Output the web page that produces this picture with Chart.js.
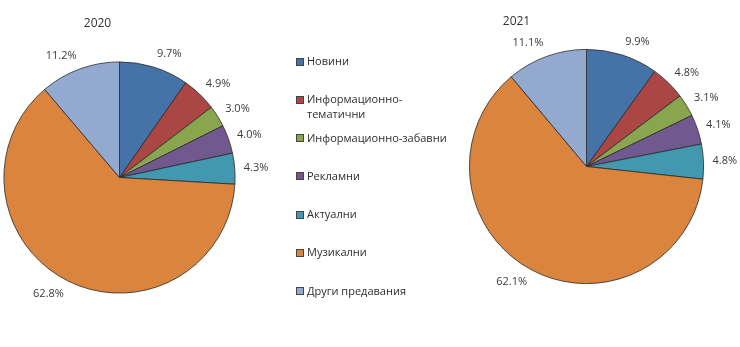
<!DOCTYPE html>
<html>
<head>
<meta charset="utf-8">
<script src="https://cdn.jsdelivr.net/npm/chart.js@4/dist/chart.umd.min.js"></script>
<style>
    html, body { margin: 0; padding: 0; background: #fff; }
    #wrap { position: relative; width: 740px; height: 347px; overflow: hidden; }
    #wrap canvas { position: absolute; left: 0; top: 0; }
    #legend {
        position: absolute; left: 296px; top: 53px; margin: 0; padding: 0;
        list-style: none; font: 11px "Open Sans", sans-serif; color: #2e2e2e;
    }
    #legend li { position: relative; height: 38.3px; padding-left: 11px; line-height: 15px; }
    #legend span.box {
        position: absolute; left: 0; top: 4.5px; width: 6px; height: 6px;
        border: 0.8px solid #444;
    }
</style>
</head>
<body>
<div id="wrap">
    <canvas id="pie-2020" width="740" height="347"></canvas>
    <canvas id="pie-2021" width="740" height="347"></canvas>
    <ul id="legend"></ul>
</div>
<script>
// Share of broadcast time by programme type, %
const categories = ['Новини', 'Информационно-\nтематични', 'Информационно-забавни', 'Рекламни', 'Актуални', 'Музикални', 'Други предавания'];
const years = ['2020', '2021'];
const values2020 = [9.7, 4.9, 3.0, 4.0, 4.3, 62.8, 11.2];
const values2021 = [9.9, 4.8, 3.1, 4.1, 4.8, 62.1, 11.1];

const colors = ['#4572A7', '#AA4643', '#89A54E', '#71588F', '#4198AF', '#DB843D', '#93A9CF'];
const textColor = '#3a3a3a';
const labelFont = '11px "Open Sans", sans-serif';

// percentage labels outside each slice + year caption
const outsideLabels = {
    id: 'outsideLabels',
    afterDatasetsDraw(chart, args, opts) {
        const { ctx } = chart;
        const meta = chart.getDatasetMeta(0);
        const values = chart.data.datasets[0].data;
        ctx.save();
        ctx.font = labelFont;
        ctx.fillStyle = textColor;
        ctx.textAlign = 'center';
        ctx.textBaseline = 'middle';
        const h = 10;
        meta.data.forEach((arc, i) => {
            const { x, y, startAngle, endAngle, outerRadius } = arc.getProps(['x', 'y', 'startAngle', 'endAngle', 'outerRadius'], true);
            const mid = (startAngle + endAngle) / 2;
            const ux = Math.cos(mid), uy = Math.sin(mid);
            const text = values[i].toFixed(1) + '%';
            const w = ctx.measureText(text).width;
            const R = outerRadius + 9;
            const lx = x + R * ux + Math.sign(ux) * w / 2;
            const ly = y + R * uy + uy * h / 2;
            ctx.fillText(text, lx, ly);
        });

        // year caption above the pie, a little left of centre
        const first = meta.data[0];
        ctx.font = '12px "Open Sans", sans-serif';
        ctx.fillStyle = '#333';
        ctx.fillText(opts.text, first.x + opts.dx, first.y - first.outerRadius + opts.dy);
        ctx.restore();
    }
};

function makePie(id, year, values, pad) {
    return new Chart(document.getElementById(id), {
        type: 'pie',
        data: {
            labels: categories,
            datasets: [{
                data: values,
                backgroundColor: colors,
                borderColor: '#2b2b2b',
                borderWidth: 0.8,
            }],
        },
        options: {
            responsive: false,
            animation: false,
            events: [],
            layout: { padding: pad },
            plugins: {
                legend: { display: false },
                tooltip: { enabled: false },
                outsideLabels: year,
            },
        },
        plugins: [outsideLabels],
    });
}

makePie('pie-2020', { text: years[0], dx: -22, dy: -38 }, values2020,
    { left: 3.5, top: 61.5, right: 504.5, bottom: 53.5 });
makePie('pie-2021', { text: years[1], dx: -70, dy: -28 }, values2021,
    { left: 469, top: 49, right: 36, bottom: 63 });

// legend
const legend = document.getElementById('legend');
categories.forEach((name, i) => {
    const li = document.createElement('li');
    const box = document.createElement('span');
    box.className = 'box';
    box.style.background = colors[i];
    li.appendChild(box);
    name.split('\n').forEach((line, k) => {
        if (k) li.appendChild(document.createElement('br'));
        li.appendChild(document.createTextNode(line));
    });
    legend.appendChild(li);
});
</script>
</body>
</html>
